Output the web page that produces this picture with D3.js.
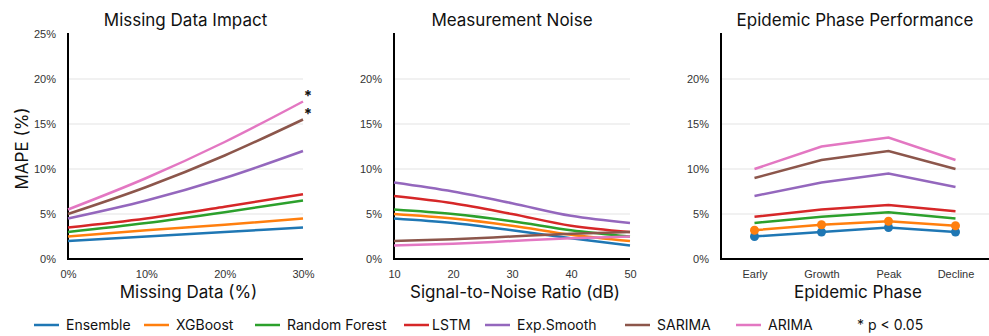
<!DOCTYPE html>
<html>
<head>
<meta charset="utf-8">
<script src="https://cdn.jsdelivr.net/npm/d3@7"></script>
<style>
  body { margin: 0; background: #fff; }
  svg { font-family: Inter, "Noto Sans", sans-serif; }
  .tick text { fill: #333; font-size: 11px; }
</style>
</head>
<body>
<div id="app"></div>
<script>
// models and colours
const models = ["Ensemble", "XGBoost", "Random Forest", "LSTM", "Exp.Smooth", "SARIMA", "ARIMA"];
const colors = ["#1f77b4", "#ff7f0e", "#2ca02c", "#d62728", "#9467bd", "#8c564b", "#e377c2"];

// panel 1: missing data
const missingLevels = [0, 10, 20, 30];
const missingValues = [
  [2.0, 2.5, 3.0, 3.5],
  [2.5, 3.2, 3.8, 4.5],
  [3.0, 4.0, 5.2, 6.5],
  [3.5, 4.5, 5.8, 7.2],
  [4.5, 6.5, 9.0, 12.0],
  [5.0, 8.0, 11.5, 15.5],
  [5.5, 9.0, 13.0, 17.5]
];
const significant = ["SARIMA", "ARIMA"];

// panel 2: signal-to-noise ratio
const snrLevels = [10, 20, 30, 40, 50];
const snrValues = [
  [4.5, 4.0, 3.2, 2.3, 1.5],
  [5.0, 4.5, 3.7, 2.7, 2.0],
  [5.5, 5.0, 4.2, 3.2, 2.5],
  [7.0, 6.2, 5.0, 3.7, 3.0],
  [8.5, 7.5, 6.2, 4.8, 4.0],
  [2.0, 2.2, 2.5, 2.8, 3.0],
  [1.5, 1.7, 2.0, 2.3, 2.5]
];

// panel 3: epidemic phase
const phases = ["Early", "Growth", "Peak", "Decline"];
const phaseValues = [
  [2.5, 3.0, 3.5, 3.0],
  [3.2, 3.8, 4.2, 3.7],
  [4.0, 4.7, 5.2, 4.5],
  [4.7, 5.5, 6.0, 5.3],
  [7.0, 8.5, 9.5, 8.0],
  [9.0, 11.0, 12.0, 10.0],
  [10.0, 12.5, 13.5, 11.0]
];
const markerModels = ["Ensemble", "XGBoost"];

const width = 989, height = 336;
const plotTop = 34, plotBottom = 259;

const svg = d3.select("#app").append("svg")
  .attr("width", width).attr("height", height);

const y = d3.scaleLinear().domain([0, 25]).range([plotBottom, plotTop]);

function drawPanel(opts) {
  const { x, levels, values, title, xTitle, yTicks, tickFormat, curve, markers } = opts;
  const [x0, x1] = x.range();
  const g = svg.append("g");

  // gridlines
  g.selectAll("line.grid")
    .data([5, 10, 15, 20])
    .join("line")
    .attr("class", "grid")
    .attr("x1", x0).attr("x2", x1)
    .attr("y1", d => y(d)).attr("y2", d => y(d))
    .attr("stroke", "#e3e3e3").attr("stroke-width", 1);

  // y axis
  const yAxis = g.append("g").attr("transform", `translate(${x0},0)`)
    .call(d3.axisLeft(y).tickValues(yTicks).tickSize(0).tickPadding(12).tickFormat(d => d + "%"));
  yAxis.select(".domain").remove();
  g.append("line").attr("x1", x0).attr("x2", x0).attr("y1", plotTop - 1).attr("y2", plotBottom + 1)
    .attr("stroke", "#000").attr("stroke-width", 2);

  // x axis
  const xAxis = g.append("g").attr("transform", `translate(0,${plotBottom})`)
    .call(d3.axisBottom(x).tickValues(levels).tickSize(0).tickPadding(11).tickFormat(tickFormat));
  xAxis.select(".domain").remove();
  g.append("line").attr("x1", x0 - 1).attr("x2", x1).attr("y1", plotBottom).attr("y2", plotBottom)
    .attr("stroke", "#000").attr("stroke-width", 2);

  // lines
  const line = d3.line()
    .x((d, i) => x(levels[i]))
    .y(d => y(d))
    .curve(curve);
  g.selectAll("path.series")
    .data(values)
    .join("path")
    .attr("class", "series")
    .attr("fill", "none")
    .attr("stroke", (d, i) => colors[i])
    .attr("stroke-width", 2.5)
    .attr("d", line);

  if (markers) {
    markerModels.forEach(m => {
      const k = models.indexOf(m);
      g.selectAll(null)
        .data(values[k])
        .join("circle")
        .attr("cx", (d, i) => x(levels[i]))
        .attr("cy", d => y(d))
        .attr("r", 4.5)
        .attr("fill", colors[k]);
    });
  }

  const cx = (x0 + x1) / 2;
  g.append("text").attr("x", cx).attr("y", 26)
    .attr("text-anchor", "middle").attr("font-size", 17).attr("fill", "#111")
    .text(title);
  g.append("text").attr("x", cx + 3).attr("y", 298)
    .attr("text-anchor", "middle").attr("font-size", 17).attr("fill", "#111")
    .text(xTitle);
  return g;
}

const x1 = d3.scaleLinear().domain([0, 30]).range([68, 303]);
const p1 = drawPanel({
  x: x1, levels: missingLevels, values: missingValues,
  title: "Missing Data Impact", xTitle: "Missing Data (%)",
  yTicks: [0, 5, 10, 15, 20, 25], tickFormat: d => d + "%",
  curve: d3.curveMonotoneX
});
// significance markers
significant.forEach(m => {
  const k = models.indexOf(m);
  const last = missingValues[k][missingValues[k].length - 1];
  p1.append("text")
    .attr("x", x1(30) + 5).attr("y", y(last) - 1)
    .attr("text-anchor", "middle").attr("font-size", 15).attr("font-weight", "bold")
    .attr("fill", "#111")
    .text("*");
});
svg.append("text")
  .attr("transform", `translate(28,${(plotTop + plotBottom) / 2 + 2}) rotate(-90)`)
  .attr("text-anchor", "middle").attr("font-size", 17).attr("fill", "#111")
  .text("MAPE (%)");

drawPanel({
  x: d3.scaleLinear().domain([10, 50]).range([394, 630]),
  levels: snrLevels, values: snrValues,
  title: "Measurement Noise", xTitle: "Signal-to-Noise Ratio (dB)",
  yTicks: [0, 5, 10, 15, 20], tickFormat: d => d,
  curve: d3.curveMonotoneX
});

drawPanel({
  x: d3.scalePoint().domain(phases).range([721, 989]).padding(0.5),
  levels: phases, values: phaseValues,
  title: "Epidemic Phase Performance", xTitle: "Epidemic Phase",
  yTicks: [0, 5, 10, 15, 20], tickFormat: d => d,
  curve: d3.curveLinear, markers: true
});

// legend
const legendX = [34, 144, 255, 404, 485, 625, 736];
const legend = svg.append("g").attr("transform", "translate(0,325)");
models.forEach((m, i) => {
  legend.append("line")
    .attr("x1", legendX[i]).attr("x2", legendX[i] + 25)
    .attr("stroke", colors[i]).attr("stroke-width", 2.5);
  legend.append("text")
    .attr("x", legendX[i] + (m === "LSTM" ? 28 : 32)).attr("y", 5)
    .attr("font-size", 14).attr("fill", "#111")
    .text(m);
});
legend.append("text").attr("x", 857).attr("y", 5)
  .attr("font-size", 14).attr("fill", "#111").text("* p < 0.05");
</script>
</body>
</html>
